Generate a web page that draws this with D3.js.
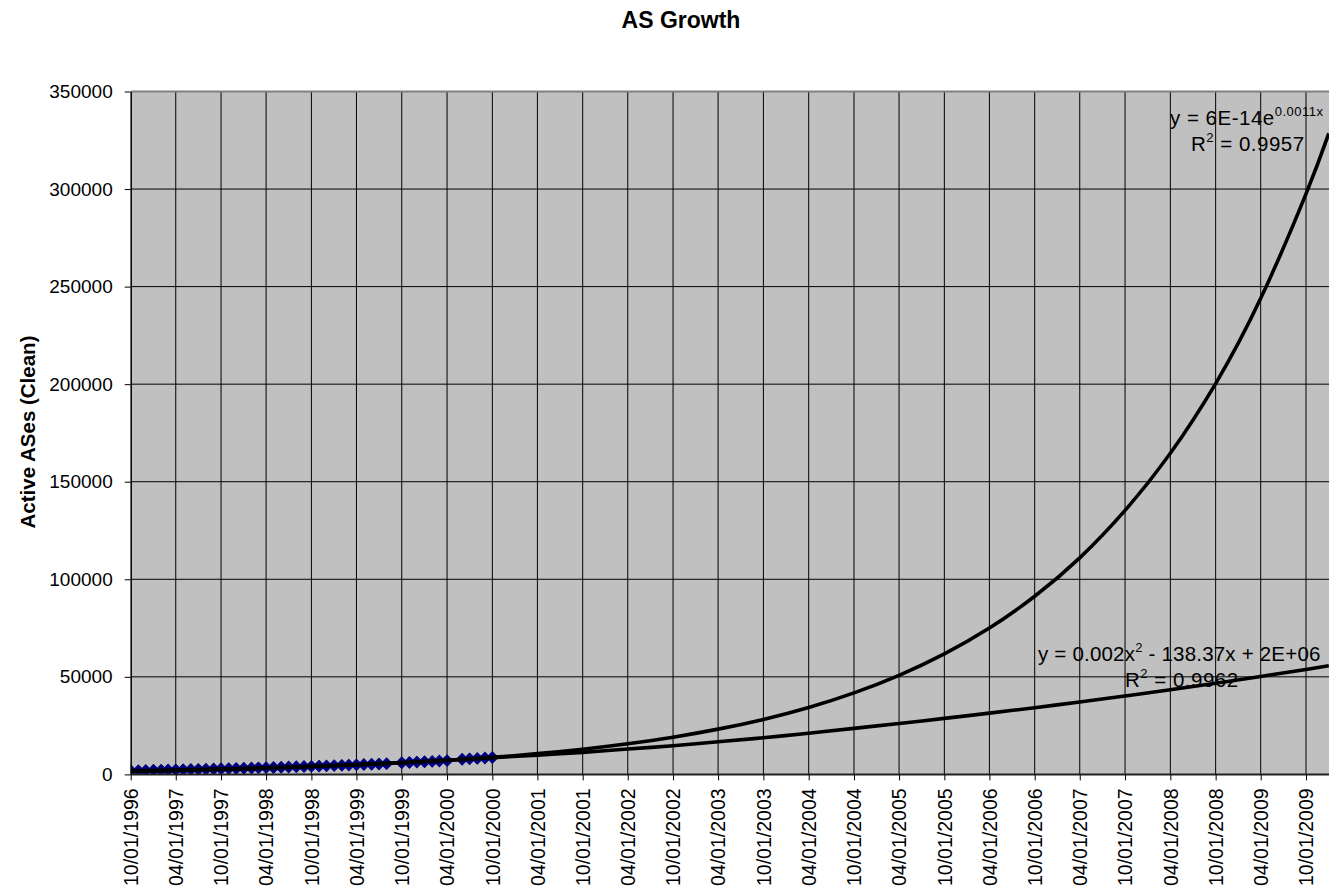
<!DOCTYPE html>
<html><head><meta charset="utf-8">
<script src="https://cdn.jsdelivr.net/npm/d3@7"></script>
<style>
html,body{margin:0;padding:0;background:#fff;}
svg{display:block;font-family:"Liberation Sans",Arial,sans-serif;}
</style></head>
<body>
<svg id="chart" width="1329" height="894"></svg>
<script>
// ---------- DATA ----------
const chartTitle = "AS Growth";
const yAxisTitle = "Active ASes (Clean)";
const tickLabels = ["10/01/1996","04/01/1997","10/01/1997","04/01/1998","10/01/1998","04/01/1999",
  "10/01/1999","04/01/2000","10/01/2000","04/01/2001","10/01/2001","04/01/2002","10/01/2002",
  "04/01/2003","10/01/2003","04/01/2004","10/01/2004","04/01/2005","10/01/2005","04/01/2006",
  "10/01/2006","04/01/2007","10/01/2007","04/01/2008","10/01/2008","04/01/2009","10/01/2009"];
const yTicks = [0,50000,100000,150000,200000,250000,300000,350000];
const axisEnd = "01/01/2010";

// observed active ASes (monthly samples)
const obsDates = ["10/01/1996","11/01/1996","12/01/1996",
  "01/01/1997","02/01/1997","03/01/1997","04/01/1997","05/01/1997","06/01/1997","07/01/1997","08/01/1997","09/01/1997","10/01/1997","11/01/1997","12/01/1997",
  "01/01/1998","02/01/1998","03/01/1998","04/01/1998","05/01/1998","06/01/1998","07/01/1998","08/01/1998","09/01/1998","10/01/1998","11/01/1998","12/01/1998",
  "01/01/1999","02/01/1999","03/01/1999","04/01/1999","05/01/1999","06/01/1999","07/01/1999","08/01/1999","10/01/1999","11/01/1999","12/01/1999",
  "01/01/2000","02/01/2000","03/01/2000","04/01/2000","06/01/2000","07/01/2000","08/01/2000","09/01/2000","10/01/2000"];
const obsValues = [1850,1930,2010,
  2090,2170,2250,2340,2420,2510,2600,2690,2780,2870,2970,3060,
  3160,3260,3360,3470,3570,3680,3790,3900,4010,4130,4250,4370,
  4500,4630,4760,4900,5040,5190,5340,5500,5950,6120,6300,
  6480,6670,6870,7070,7730,7960,8200,8440,8680];

// trendline values read at each tick date (plus axis end)
const trendDates = tickLabels.concat([axisEnd]);
const expTrend = [1880,2280,2780,3380,4100,4980,6000,7250,8750,10630,12920,15700,19080,23200,
  28200,34300,41800,50800,61800,75000,91300,111000,135300,164600,200300,244000,297500,328500];
const polyTrend = [1600,2030,2580,3260,4060,5000,6050,7240,8550,9900,11300,13000,14700,16700,
  18800,21100,23600,26100,28700,31400,34200,37100,40200,43400,46700,50200,53800,55700];

const expLabel = {main:"y = 6E-14e", sup:"0.0011x", r2:" = 0.9957"};
const polyLabel = {a:"y = 0.002x", b:" - 138.37x + 2E+06", r2:" = 0.9962"};

// ---------- LAYOUT ----------
const W = 1329, H = 894;
const plotL = 130.7, plotR = 1329, plotT = 91.5, plotB = 774.4;
const parse = d3.timeParse("%m/%d/%Y");
const tickDates = tickLabels.map(parse);

const x = d3.scaleTime()
  .domain([tickDates[0], tickDates[tickDates.length-1]])
  .range([plotL, 1306]);
const y = d3.scaleLinear().domain([0,350000]).range([plotB, plotT]);

const svg = d3.select("#chart");
svg.append("rect").attr("width",W).attr("height",H).attr("fill","#fff");

svg.append("defs").append("clipPath").attr("id","clip")
  .append("rect").attr("x",plotL).attr("y",plotT).attr("width",plotR-plotL).attr("height",plotB-plotT);

// plot background
svg.append("rect").attr("x",plotL).attr("y",plotT).attr("width",plotR-plotL).attr("height",plotB-plotT)
  .attr("fill","#C0C0C0");

// gridlines
const grid = svg.append("g");
grid.selectAll(".hg").data(yTicks.filter(v=>v>0 && v<350000)).join("line")
  .attr("x1",plotL).attr("x2",plotR).attr("y1",d=>y(d)).attr("y2",d=>y(d))
  .attr("stroke","#000").attr("stroke-width",1);
grid.selectAll(".vg").data(tickDates.slice(1)).join("line")
  .attr("x1",d=>x(d)).attr("x2",d=>x(d)).attr("y1",plotT).attr("y2",plotB)
  .attr("stroke","#000").attr("stroke-width",1);

// top border
svg.append("line").attr("x1",plotL).attr("x2",plotR).attr("y1",plotT).attr("y2",plotT)
  .attr("stroke","#808080").attr("stroke-width",2);

// observed markers (diamonds)
const plot = svg.append("g").attr("clip-path","url(#clip)");
const obs = obsDates.map((d,i)=>({d:parse(d), v:obsValues[i]}));
const diamond = d3.symbol().type(d3.symbolSquare).size(66);
plot.selectAll(".pt").data(obs).join("path")
  .attr("d",diamond)
  .attr("transform",p=>`translate(${x(p.d)},${y(p.v)}) rotate(45)`)
  .attr("fill","#000080").attr("stroke","#000080").attr("stroke-width",1);

// trendlines
const line = d3.line().x(p=>x(p.d)).y(p=>y(p.v)).curve(d3.curveNatural);
const expPts = trendDates.map((d,i)=>({d:parse(d), v:expTrend[i]}));
const polyPts = trendDates.map((d,i)=>({d:parse(d), v:polyTrend[i]}));
[expPts, polyPts].forEach(pts=>{
  plot.append("path").attr("d",line(pts)).attr("fill","none")
    .attr("stroke","#000").attr("stroke-width",3.6);
});

// axes
const yAxis = d3.axisLeft(y).tickValues(yTicks).tickSizeInner(6).tickSizeOuter(0).tickPadding(12)
  .tickFormat(d3.format("d"));
const gy = svg.append("g").attr("transform",`translate(${plotL},0)`).call(yAxis);
gy.select(".domain").attr("stroke","#000").attr("stroke-width",1.5);
gy.selectAll(".tick line").attr("stroke","#000");
gy.selectAll("text").attr("font-size",19).attr("fill","#000")
  .attr("font-family",'"Liberation Sans",Arial,sans-serif');

const fmt = d3.timeFormat("%m/%d/%Y");
const xAxis = d3.axisBottom(x).tickValues(tickDates).tickSizeInner(6).tickSizeOuter(0).tickFormat(fmt);
const gx = svg.append("g").attr("transform",`translate(0,${plotB})`).call(xAxis);
gx.select(".domain").attr("stroke","#222").attr("stroke-width",2).attr("d",`M${plotL},0H${plotR}`);
gx.selectAll(".tick line").attr("stroke","#000");
gx.selectAll("text").attr("font-size",19.5).attr("fill","#000")
  .attr("font-family",'"Liberation Sans",Arial,sans-serif')
  .attr("transform","rotate(-90)").attr("x",-14).attr("y",0).attr("dy","0.35em")
  .style("text-anchor","end");

// titles
svg.append("text").attr("x",681).attr("y",28).attr("text-anchor","middle")
  .attr("font-size",23).attr("font-weight","bold").text(chartTitle);
svg.append("text").attr("transform","translate(35,432) rotate(-90)").attr("text-anchor","middle")
  .attr("font-size",20.5).attr("font-weight","bold").text(yAxisTitle);

// trendline labels
const eqFont = 20.5, supFont = 13;
const eq1 = svg.append("text").attr("x",1170).attr("y",125).attr("font-size",eqFont).attr("letter-spacing",0.5);
eq1.append("tspan").text(expLabel.main);
eq1.append("tspan").attr("dy",-9).attr("font-size",supFont).text(expLabel.sup);
const r1 = svg.append("text").attr("x",1191).attr("y",151).attr("font-size",eqFont).attr("letter-spacing",0.5);
r1.append("tspan").text("R");
r1.append("tspan").attr("dy",-9).attr("font-size",supFont).text("2");
r1.append("tspan").attr("dy",9).text(expLabel.r2);

const eq2 = svg.append("text").attr("x",1038).attr("y",661).attr("font-size",eqFont).attr("letter-spacing",0.2);
eq2.append("tspan").text(polyLabel.a);
eq2.append("tspan").attr("dy",-9).attr("font-size",supFont).text("2");
eq2.append("tspan").attr("dy",9).text(polyLabel.b);
const r2 = svg.append("text").attr("x",1125).attr("y",687).attr("font-size",eqFont).attr("letter-spacing",0.5);
r2.append("tspan").text("R");
r2.append("tspan").attr("dy",-9).attr("font-size",supFont).text("2");
r2.append("tspan").attr("dy",9).text(polyLabel.r2);
</script>
</body></html>
